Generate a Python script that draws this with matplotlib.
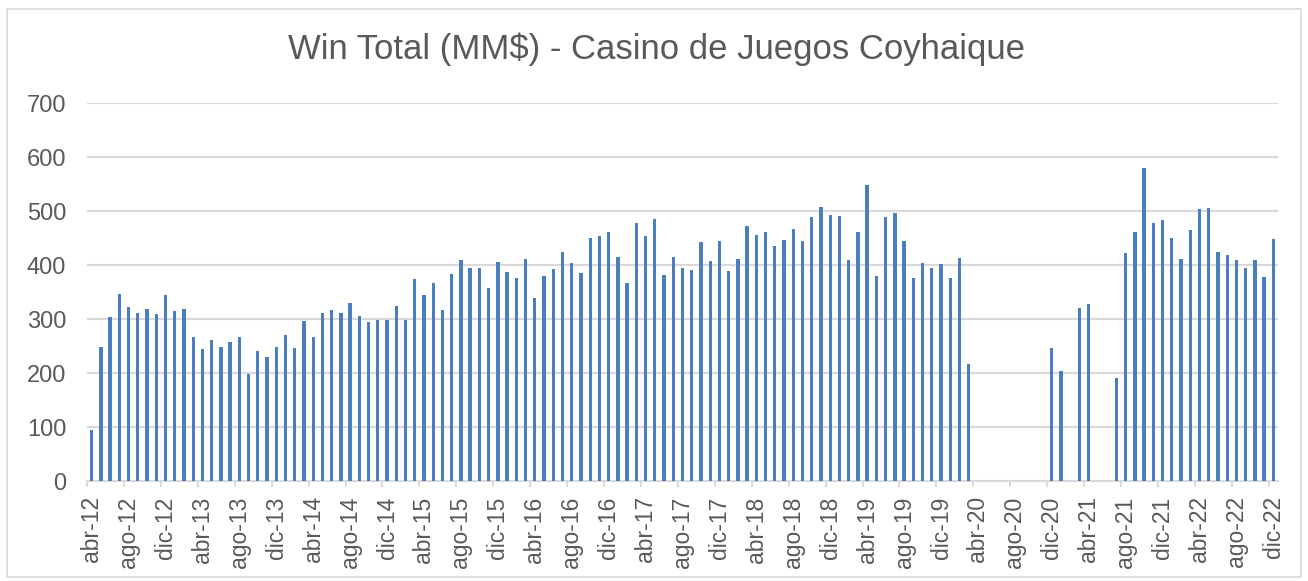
import numpy as np
import matplotlib
matplotlib.use("Agg")
import matplotlib.pyplot as plt
from matplotlib.patches import Rectangle

plt.rcParams['font.family'] = ['Liberation Sans', 'DejaVu Sans']

months = ["ene", "feb", "mar", "abr", "may", "jun", "jul", "ago", "sep", "oct", "nov", "dic"]
categories = []
for y in range(2012, 2023):
    for m in range(12):
        if y == 2012 and m < 3:
            continue
        categories.append(f"{months[m]}-{str(y)[2:]}")

nan = np.nan
win_total = [
    # 2012 abr-dic
    94, 249, 304, 347, 323, 312, 318, 310, 345,
    # 2013
    315, 318, 267, 244, 262, 249, 258, 267, 199, 241, 229, 248,
    # 2014
    271, 247, 297, 266, 311, 316, 312, 329, 305, 294, 298, 298,
    # 2015
    324, 298, 375, 344, 367, 316, 384, 409, 394, 394, 358, 405,
    # 2016
    387, 376, 412, 339, 380, 393, 425, 404, 385, 450, 453, 462,
    # 2017
    414, 367, 477, 453, 486, 381, 414, 394, 390, 442, 407, 444,
    # 2018
    389, 412, 472, 455, 461, 436, 447, 467, 444, 488, 508, 492,
    # 2019
    491, 410, 462, 548, 380, 488, 497, 445, 376, 403, 394, 402,
    # 2020
    376, 413, 217, nan, nan, nan, nan, nan, nan, nan, nan, 247,
    # 2021
    204, nan, 321, 327, nan, nan, 190, 422, 461, 579, 477, 484,
    # 2022
    450, 411, 465, 503, 506, 425, 418, 409, 394, 409, 378, 448,
]

title = "Win Total (MM$) - Casino de Juegos Coyhaique"
y_ticks = [0, 100, 200, 300, 400, 500, 600, 700]

W, H = 1308, 581
fig = plt.figure(figsize=(W / 100, H / 100), dpi=100)
fig.patch.set_facecolor('white')
fig.add_artist(Rectangle((7 / W, 4 / H), (W - 14) / W, (H - 13) / H, transform=fig.transFigure,
                         fill=False, edgecolor='#d9d9d9', linewidth=1.2))

ax = fig.add_axes([87 / W, (H - 481) / H, (1278 - 87) / W, (481 - 103) / H])
x = np.arange(len(categories))
vals = np.array(win_total, dtype=float)
ax.bar(x, np.nan_to_num(vals), width=0.36, color='#4a7ebf', zorder=3)

ax.set_xlim(-0.5, len(categories) - 0.5)
ax.set_ylim(0, 700)
ax.set_yticks(y_ticks)
ax.set_yticklabels([str(v) for v in y_ticks], fontsize=17, color='#595959')
ax.yaxis.grid(True, color='#d9d9d9', linewidth=1.5, zorder=0)
ax.tick_params(axis='y', length=0, pad=15)

ax.set_xticks(x[::4])
ax.set_xticklabels(categories[::4], rotation=90, fontsize=16.5, color='#595959')
ax.set_xticks(np.arange(-0.5, len(categories), 4), minor=True)
ax.tick_params(axis='x', which='major', length=0, pad=11)
ax.tick_params(axis='x', which='minor', length=4.5, width=1.3, color='#d9d9d9')

for s in ['top', 'right', 'left']:
    ax.spines[s].set_visible(False)
ax.spines['bottom'].set_color('#d9d9d9')
ax.spines['bottom'].set_linewidth(1.5)

fig.text(657 / W, 1 - 59 / H, title, ha='center', va='baseline', fontsize=25,
         color='#595959')

fig.savefig("out.png", dpi=100)
